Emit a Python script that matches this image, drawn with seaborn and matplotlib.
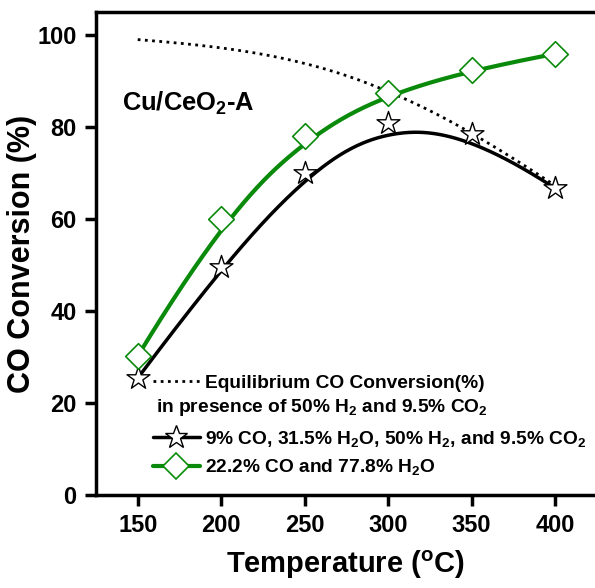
import matplotlib
matplotlib.use("Agg")
import matplotlib.pyplot as plt
from matplotlib.lines import Line2D
import seaborn as sns
import numpy as np
import pandas as pd

temps = [150, 200, 250, 300, 350, 400]
equilibrium = [99.0, 97.6, 94.4, 88.3, 79.3, 67.3]
mixed_feed = [25.4, 49.6, 70.0, 80.9, 78.5, 66.7]
simple_feed = [30.2, 60.0, 78.0, 87.4, 92.4, 95.9]

label_eq = "Equilibrium CO Conversion(%)"
label_eq2 = "in presence of 50% H$_2$ and 9.5% CO$_2$"
label_mix = "9% CO, 31.5% H$_2$O, 50% H$_2$, and 9.5% CO$_2$"
label_simple = "22.2% CO and 77.8% H$_2$O"
catalyst = "Cu/CeO$_2$-A"
xticks = [150, 200, 250, 300, 350, 400]
yticks = [0, 20, 40, 60, 80, 100]

sns.set_style("ticks")
plt.rcParams["font.family"] = ["Liberation Sans", "DejaVu Sans"]
plt.rcParams["font.weight"] = "bold"
plt.rcParams["mathtext.fontset"] = "custom"
plt.rcParams["mathtext.rm"] = "Liberation Sans:bold"
plt.rcParams["mathtext.it"] = "Liberation Sans:bold"
plt.rcParams["mathtext.bf"] = "Liberation Sans:bold"
plt.rcParams["mathtext.default"] = "rm"
for key in ["text.color", "axes.labelcolor", "xtick.color", "ytick.color", "axes.edgecolor"]:
    plt.rcParams[key] = "black"

GREEN = "#0a8a0a"


def bspline(xs, ys, k=3, n=300):
    """Clamped B-spline through control points (like Origin's B-spline connect)."""
    cx = np.asarray(xs, float)
    cy = np.asarray(ys, float)
    m = len(cx)
    knots = np.r_[[0] * k, np.arange(m - k + 1), [m - k] * k].astype(float)
    t = np.linspace(0, m - k, n)
    B = np.zeros((n, len(knots) - 1))
    for i in range(len(knots) - 1):
        B[:, i] = (knots[i] <= t) & (t < knots[i + 1])
    B[-1, m - 1] = 1.0
    for d in range(1, k + 1):
        Bn = np.zeros((n, len(knots) - 1 - d))
        for i in range(len(knots) - 1 - d):
            a = knots[i + d] - knots[i]
            b = knots[i + d + 1] - knots[i + 1]
            term = 0
            if a > 0:
                term = term + (t - knots[i]) / a * B[:, i]
            if b > 0:
                term = term + (knots[i + d + 1] - t) / b * B[:, i + 1]
            Bn[:, i] = term
        B = Bn
    return B @ cx, B @ cy


df = pd.DataFrame({"T": temps, "eq": equilibrium, "mix": mixed_feed, "simple": simple_feed})

fig = plt.figure(figsize=(5.95, 5.88), dpi=100)
ax = fig.add_axes([96 / 595, 93 / 588, 1 - 96 / 595, (495 - 12) / 588])

curves = {}
for col in ["eq", "mix", "simple"]:
    bx, by = bspline(df["T"], df[col])
    curves[col] = pd.DataFrame({"T": bx, "v": by})

sns.lineplot(data=curves["eq"], x="T", y="v", sort=False, ax=ax, color="black",
             lw=2, ls=(0, (1, 1.6)), estimator=None)
sns.lineplot(data=curves["mix"], x="T", y="v", sort=False, ax=ax, color="black",
             lw=2.5, estimator=None)
sns.lineplot(data=curves["simple"], x="T", y="v", sort=False, ax=ax, color=GREEN,
             lw=3, estimator=None)
sns.scatterplot(data=df, x="T", y="mix", marker="*", s=300, facecolor="white",
                edgecolor="black", linewidth=1.0, ax=ax, zorder=5)
sns.scatterplot(data=df, x="T", y="simple", marker="D", s=170, facecolor="white",
                edgecolor=GREEN, linewidth=1.2, ax=ax, zorder=5)

ax.set_xlim(125, 424)
ax.set_ylim(0, 105)
ax.set_xticks(xticks)
ax.set_yticks(yticks)
ax.tick_params(axis="both", direction="out", length=8, width=2.5, labelsize=17, pad=6)
for lab in ax.get_xticklabels() + ax.get_yticklabels():
    lab.set_fontweight("bold")
for side in ["left", "bottom", "top"]:
    ax.spines[side].set_linewidth(2.5)
ax.spines["right"].set_visible(False)

ax.set_xlabel("Temperature ($^\\mathregular{o}$C)", fontsize=21, fontweight="bold", labelpad=8)
ax.set_ylabel("CO Conversion (%)", fontsize=22, fontweight="bold")
ax.yaxis.set_label_coords(-0.118, 0.5)

ax.text(0.052, 0.81, catalyst, transform=ax.transAxes, fontsize=18.4, fontweight="bold",
        va="center", ha="left")

h_eq = Line2D([], [], color="black", lw=2, ls=(0, (1, 1.6)))
h_mix = Line2D([], [], color="black", lw=2.5, marker="*", markersize=17,
               markerfacecolor="white", markeredgecolor="black", markeredgewidth=1.0)
h_simple = Line2D([], [], color=GREEN, lw=3, marker="D", markersize=13,
                  markerfacecolor="white", markeredgecolor=GREEN, markeredgewidth=1.2)

FS = 13.8
common = dict(frameon=False, fontsize=FS, borderpad=0, borderaxespad=0,
              handlelength=2.45, handletextpad=0.26)
leg1 = ax.legend([h_eq], [label_eq], loc="center left",
                 bbox_to_anchor=(0.114, (495 - 383) / 483), **common)
for t in leg1.get_texts():
    t.set_fontweight("bold")
ax.add_artist(leg1)
ax.text(0.12, (495 - 408) / 483, label_eq2, transform=ax.transAxes, fontsize=FS,
        fontweight="bold", va="center", ha="left")
leg2 = ax.legend([h_mix, h_simple], [label_mix, label_simple], loc="center left",
                 bbox_to_anchor=(0.114, (495 - 453) / 483), labelspacing=0.45, **common)
for t in leg2.get_texts():
    t.set_fontweight("bold")

fig.savefig("out.png", dpi=100)
